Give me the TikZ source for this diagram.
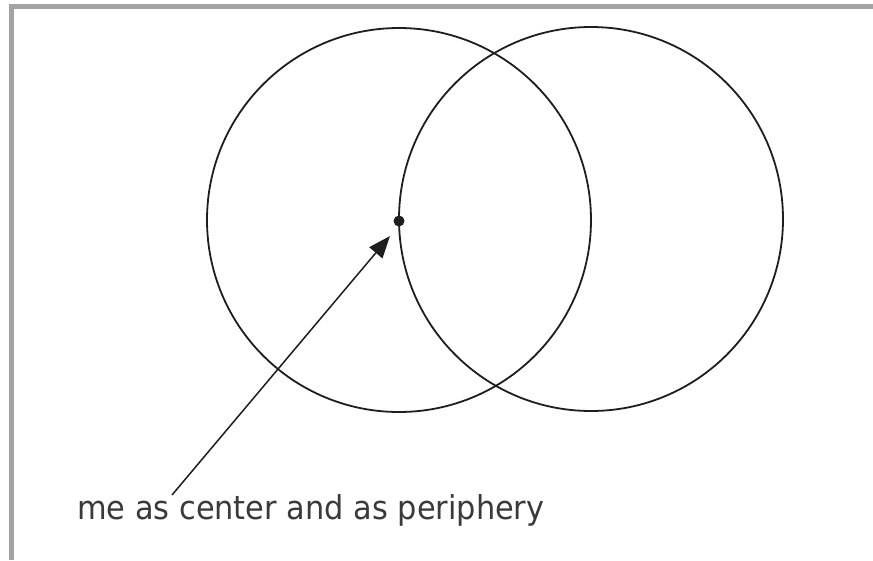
\documentclass[tikz,border=0pt]{standalone}
\usepackage{fontspec}
\setmainfont{DejaVu Sans}
\usetikzlibrary{arrows.meta}
\definecolor{framegray}{HTML}{A3A3A3}
\definecolor{ink}{HTML}{1E1E1E}
\definecolor{textgray}{HTML}{3A3A3A}
\begin{document}
\begin{tikzpicture}[x=1pt,y=-1pt,
  ring/.style={draw=ink,line width=1.8pt},
  pointer/.style={draw=ink,line width=1.5pt,-{Triangle[length=22pt,width=17pt]}},
  label/.style={inner sep=0pt,anchor=base west,text=textgray,font=\fontsize{30.4}{36}\selectfont}]
\useasboundingbox (0,0) rectangle (873,560);
\fill[white] (0,0) rectangle (873,560);
\draw[framegray,line width=5pt] (11.5,560) -- (11.5,6.5) -- (873,6.5);
\draw[ring] (399,220) circle (192);
\draw[ring] (591,219) circle (192);
\fill[ink] (399,221) circle (5.5);
\coordinate (me) at (399,221);
\node[label] (txt) at (77,519) {\scalebox{1}[1.08]{me as center and as periphery}};
\coordinate (tail) at (172,495);
\coordinate (tip) at (390,236);
\draw[pointer] (tail) -- (tip);
\end{tikzpicture}
\end{document}
